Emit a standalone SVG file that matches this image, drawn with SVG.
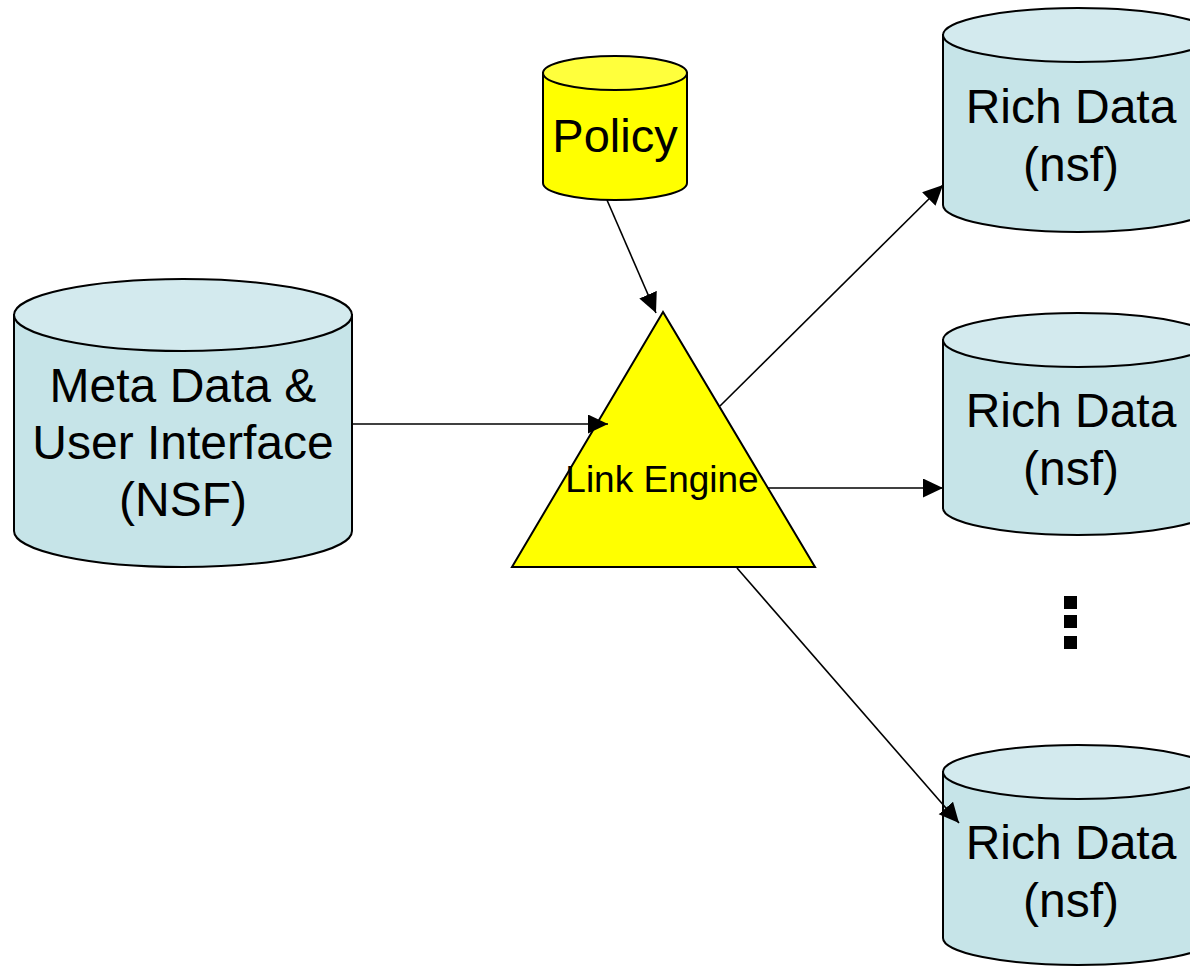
<svg xmlns="http://www.w3.org/2000/svg" width="1190" height="966" viewBox="0 0 1190 966">
<style>
.body{fill:#C6E4E8;stroke:#000;stroke-width:2}
.top{fill:#D3EAEE;stroke:#000;stroke-width:2}
.ybody{fill:#FFFF00;stroke:#000;stroke-width:2}
.ytop{fill:#FFFF3C;stroke:#000;stroke-width:2}
.lbl{font-family:"Liberation Sans",Arial,sans-serif;font-size:48px;fill:#000;text-anchor:middle}
.pol{font-size:47px}
.small{font-size:37px}
.conn{stroke:#000;stroke-width:1.6;fill:none;marker-end:url(#arr)}
</style>
<defs>
<marker id="arr" markerUnits="userSpaceOnUse" markerWidth="22" markerHeight="20" refX="20" refY="9.5" orient="auto">
<path d="M0,0 L20,9.5 L0,19 z" fill="#000"/>
</marker>
</defs>
<rect width="1190" height="966" fill="#fff"/>
<g id="policy">
<path class="ybody" d="M543,73 L543,183 A72,17 0 0 0 687,183 L687,73 Z"/>
<ellipse class="ytop" cx="615" cy="73" rx="72" ry="17"/>
<text class="lbl pol" x="615" y="152">Policy</text>
</g>
<g id="meta">
<path class="body" d="M14,315 L14,531 A169,36 0 0 0 352,531 L352,315 Z"/>
<ellipse class="top" cx="183" cy="315" rx="169" ry="36"/>
<text class="lbl" x="183" y="402">Meta Data &amp;</text>
<text class="lbl" x="183" y="459">User Interface</text>
<text class="lbl" x="183" y="516">(NSF)</text>
</g>
<g id="rich1">
<path class="body" d="M943,35 L943,205 A135,27 0 0 0 1213,205 L1213,35 Z"/>
<ellipse class="top" cx="1078" cy="35" rx="135" ry="27"/>
<text class="lbl" x="1071" y="123">Rich Data</text>
<text class="lbl" x="1071" y="181">(nsf)</text>
</g>
<g id="rich2">
<path class="body" d="M943,340 L943,508 A135,27 0 0 0 1213,508 L1213,340 Z"/>
<ellipse class="top" cx="1078" cy="340" rx="135" ry="27"/>
<text class="lbl" x="1071" y="427">Rich Data</text>
<text class="lbl" x="1071" y="485">(nsf)</text>
</g>
<g id="rich3">
<path class="body" d="M943,772 L943,938 A135,27 0 0 0 1213,938 L1213,772 Z"/>
<ellipse class="top" cx="1078" cy="772" rx="135" ry="27"/>
<text class="lbl" x="1071" y="859">Rich Data</text>
<text class="lbl" x="1071" y="917">(nsf)</text>
</g>
<g id="link-engine">
<polygon points="663,312 512,567 815,567" fill="#FFFF00" stroke="#000" stroke-width="2"/>
<text class="lbl small" x="662" y="492">Link Engine</text>
</g>
<g id="ellipsis">
<rect x="1064" y="596" width="13" height="13" fill="#000"/>
<rect x="1064" y="615" width="13" height="13" fill="#000"/>
<rect x="1064" y="636" width="13" height="13" fill="#000"/>
</g>
<g id="connectors">
<line class="conn" x1="607" y1="200" x2="656" y2="313"/>
<line class="conn" x1="352" y1="424" x2="608" y2="424"/>
<line class="conn" x1="720" y1="406" x2="943" y2="185"/>
<line class="conn" x1="768" y1="488" x2="943" y2="488"/>
<line class="conn" x1="737" y1="568" x2="959" y2="823"/>
</g>
</svg>
